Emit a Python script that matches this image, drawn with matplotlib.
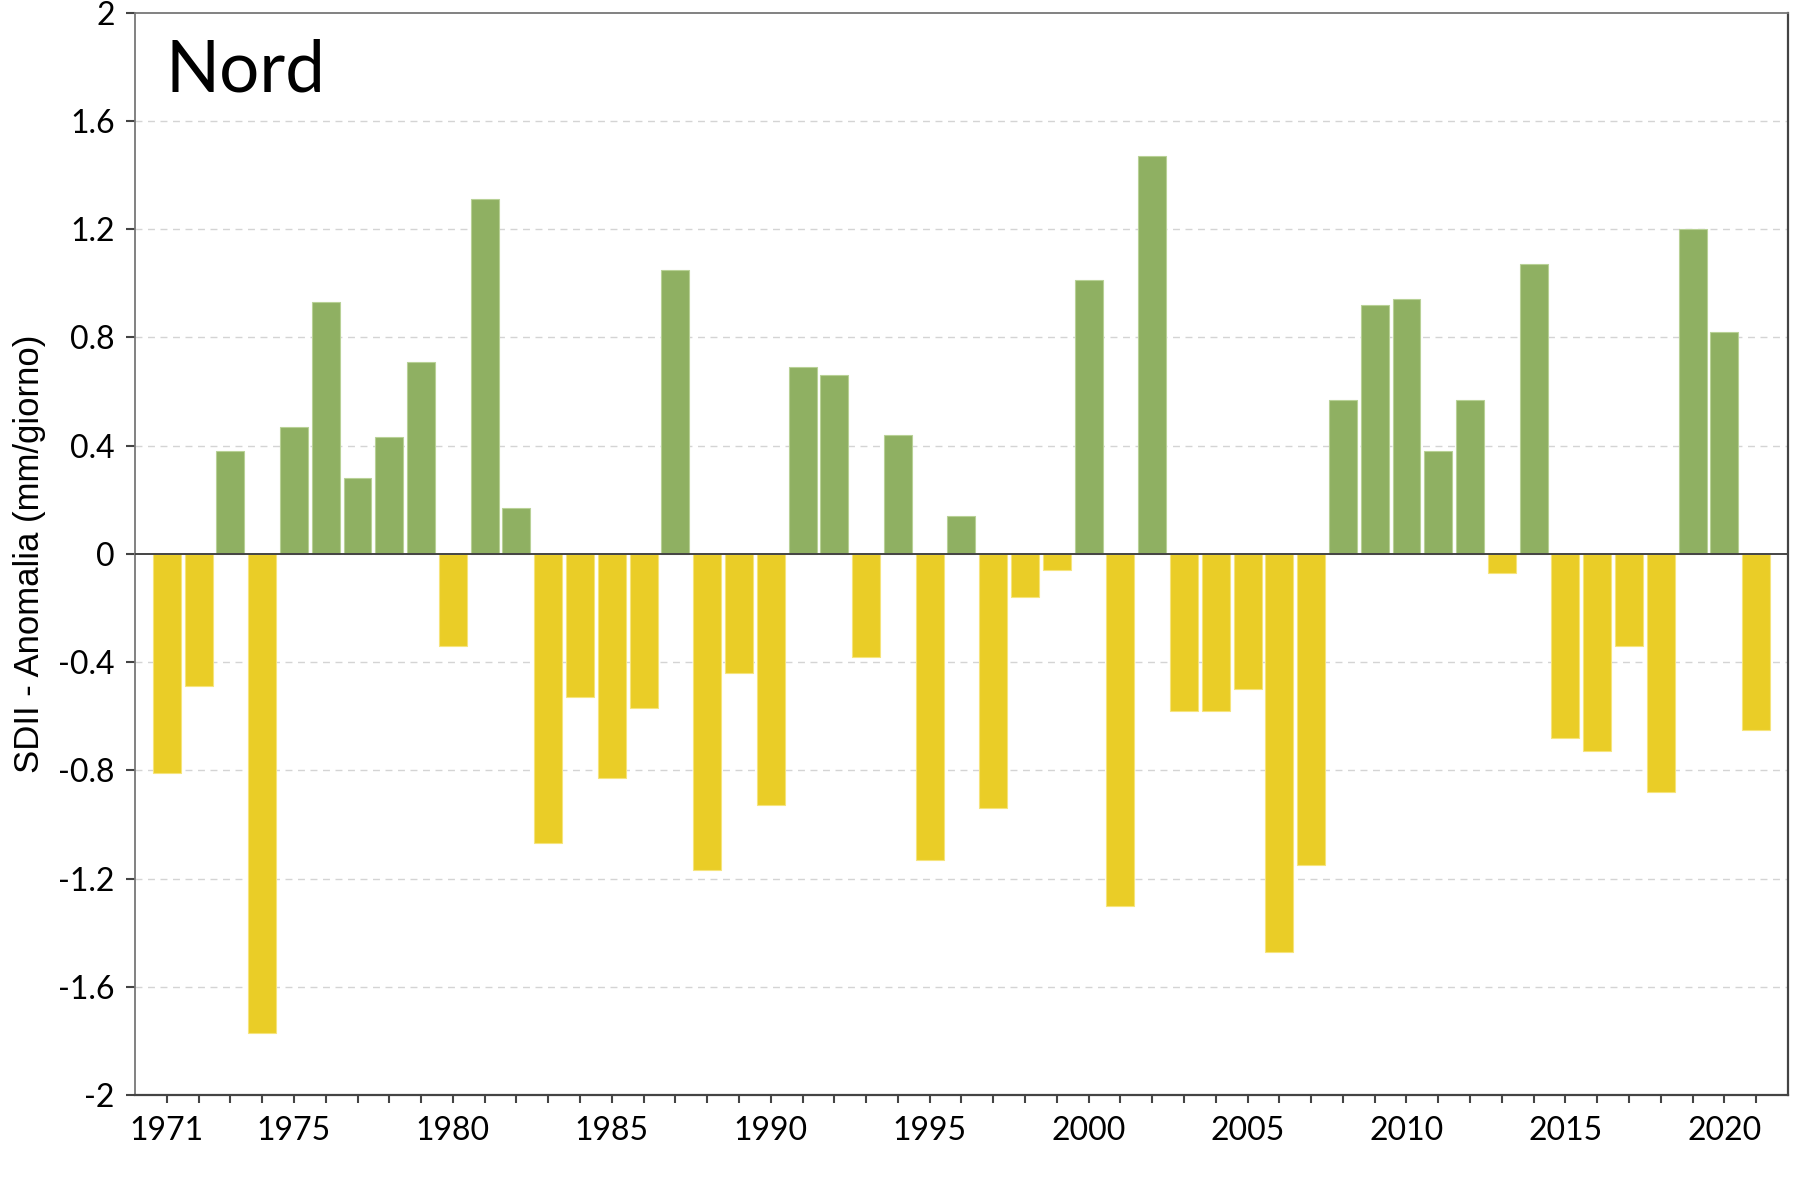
import matplotlib
matplotlib.use("Agg")
import matplotlib.pyplot as plt
import numpy as np

years = list(range(1971, 2022))
anomalies = [
    -0.81, -0.49, 0.38, -1.77, 0.47, 0.93, 0.28, 0.43, 0.71, -0.34,
    1.31, 0.17, -1.07, -0.53, -0.83, -0.57, 1.05, -1.17, -0.44, -0.93,
    0.69, 0.66, -0.38, 0.44, -1.13, 0.14, -0.94, -0.16, -0.06, 1.01,
    -1.30, 1.47, -0.58, -0.58, -0.50, -1.47, -1.15, 0.57, 0.92, 0.94,
    0.38, 0.57, -0.07, 1.07, -0.68, -0.73, -0.34, -0.88, 1.20, 0.82,
    -0.65,
]
xtick_labels = [1971, 1975, 1980, 1985, 1990, 1995, 2000, 2005, 2010, 2015, 2020]
yticks = [-2, -1.6, -1.2, -0.8, -0.4, 0, 0.4, 0.8, 1.2, 1.6, 2]
title = "Nord"
ylabel = "SDII - Anomalia (mm/giorno)"

GREEN = "#8fb062"
YELLOW = "#eacd27"

fig = plt.figure(figsize=(18, 12), dpi=100)
ax = fig.add_axes([0.075, 0.0875, 0.9183, 0.902])

colors = [GREEN if v >= 0 else YELLOW for v in anomalies]
edges = ["#b8d196" if v >= 0 else "#f6e47c" for v in anomalies]
ax.bar(years, anomalies, width=0.88, color=colors, edgecolor=edges,
       linewidth=0.8, zorder=2)

ax.axhline(0, color="#444444", lw=1.4, zorder=3)

ax.set_xlim(1970, 2022)
ax.set_ylim(-2, 2)
ax.set_yticks(yticks)
ax.set_yticklabels([("%g" % t) if t != 0 else "0" for t in yticks])
ax.set_xticks(years)
ax.set_xticklabels([str(y) if y in xtick_labels else "" for y in years])

for t in yticks:
    if t not in (-2, 0, 2):
        ax.axhline(t, color="#d4d4d4", lw=1.0, linestyle=(0, (5, 4)), zorder=1)

for side in ["left", "top"]:
    ax.spines[side].set_color("#777777")
    ax.spines[side].set_linewidth(1.3)
for side in ["bottom", "right"]:
    ax.spines[side].set_color("#444444")
    ax.spines[side].set_linewidth(1.6)

ax.tick_params(axis="y", direction="out", length=6.5, width=1.5, color="#444444",
               pad=8, labelsize=23)
ax.tick_params(axis="x", direction="out", length=6, width=1.5, color="#444444",
               pad=9, labelsize=23)
for lab in ax.get_xticklabels() + ax.get_yticklabels():
    lab.set_fontfamily("Lato")

ax.set_ylabel(ylabel, fontsize=25, family="Liberation Sans")
ax.yaxis.set_label_coords(-0.054, 0.5)

ax.text(165 / 1800, 1 - 92 / 1200, title, transform=fig.transFigure,
        fontsize=51, family="Lato", va="baseline", ha="left")

fig.savefig("out.png", dpi=100)
